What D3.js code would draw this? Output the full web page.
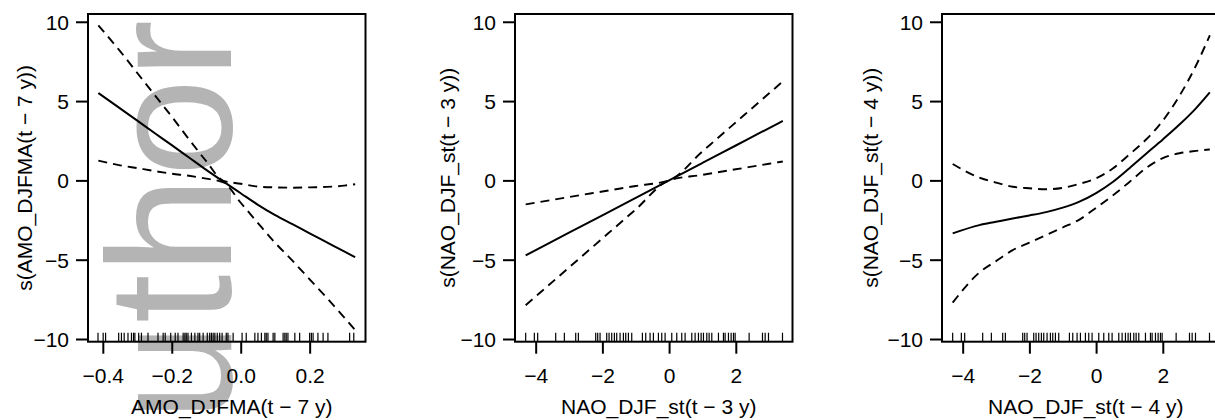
<!DOCTYPE html>
<html>
<head>
<meta charset="utf-8">
<script src="https://cdn.jsdelivr.net/npm/d3@7"></script>
<style>
  html, body { margin: 0; padding: 0; background: #fff; }
  svg { display: block; }
  text { font-family: "Liberation Sans", Arial, Helvetica, sans-serif; fill: #000; }
</style>
</head>
<body>
<svg id="chart" width="1215" height="420"></svg>
<script>
// ---- Panel 1: smooth term for AMO_DJFMA lagged 7 years ----
const amoX     = [-0.413, -0.35, -0.30, -0.25, -0.20, -0.15, -0.10, -0.05, 0.00, 0.05, 0.10, 0.15, 0.20, 0.25, 0.30, 0.332];
const amoFit   = [5.51, 4.54, 3.77, 2.99, 2.22, 1.44, 0.66, -0.08, -0.81, -1.54, -2.19, -2.76, -3.34, -3.91, -4.48, -4.84];
const amoUpper = [9.77, 8.15, 6.77, 5.39, 4.02, 2.59, 1.21, -0.03, -0.21, -0.39, -0.44, -0.46, -0.44, -0.41, -0.33, -0.24];
const amoLower = [1.25, 0.95, 0.77, 0.59, 0.42, 0.29, 0.11, -0.13, -1.41, -2.69, -3.94, -5.06, -6.24, -7.41, -8.63, -9.44];
const amoRug = [-0.414, -0.399, -0.392, -0.354, -0.346, -0.338, -0.327, -0.317, -0.311, -0.307, -0.296, -0.288,
  -0.269, -0.240, -0.225, -0.219, -0.203, -0.190, -0.182, -0.167, -0.162, -0.158, -0.153, -0.143, -0.133,
  -0.124, -0.119, -0.109, -0.097, -0.090, -0.085, -0.080, -0.075, -0.068, -0.061, -0.054, -0.042, -0.037,
  -0.022, 0.004, 0.016, 0.041, 0.050, 0.060, 0.070, 0.074, 0.079, 0.094, 0.099, 0.123, 0.128, 0.132, 0.137,
  0.157, 0.171, 0.200, 0.205, 0.210, 0.224, 0.239, 0.253, 0.316, 0.328];
const amoTicks = [-0.4, -0.2, 0.0, 0.2];

// ---- Panel 2: smooth term for NAO_DJF_st lagged 3 years ----
const nao3X     = [-4.30, -3.0, -2.0, -1.0, 0.0, 1.0, 2.0, 3.0, 3.41];
const nao3Fit   = [-4.73, -3.30, -2.20, -1.10, 0.00, 1.10, 2.20, 3.30, 3.75];
const nao3Upper = [-1.51, -1.05, -0.70, -0.35, 0.00, 1.83, 3.66, 5.49, 6.24];
const nao3Lower = [-7.87, -5.49, -3.66, -1.83, 0.00, 0.35, 0.70, 1.05, 1.19];

// ---- Panel 3: smooth term for NAO_DJF_st lagged 4 years ----
const nao4X     = [-4.30, -3.5, -3.0, -2.5, -2.0, -1.5, -1.0, -0.5, 0.0, 0.5, 1.0, 1.5, 2.0, 2.5, 3.0, 3.41];
const nao4Fit   = [-3.34, -2.82, -2.61, -2.40, -2.21, -2.00, -1.72, -1.34, -0.80, -0.10, 0.77, 1.68, 2.58, 3.52, 4.56, 5.55];
const nao4Upper = [1.03, 0.17, -0.14, -0.40, -0.50, -0.56, -0.47, -0.22, 0.13, 0.75, 1.64, 2.58, 3.76, 5.33, 7.26, 9.15];
const nao4Lower = [-7.71, -5.81, -5.09, -4.40, -3.92, -3.45, -2.97, -2.47, -1.73, -0.95, -0.10, 0.78, 1.40, 1.71, 1.86, 1.95];

// Standardised NAO values (shared rug for both NAO panels)
const naoRug = [-4.30, -4.04, -3.94, -3.40, -3.14, -2.80, -2.72, -2.20, -2.14, -2.07, -1.87, -1.80, -1.72,
  -1.64, -1.57, -1.47, -1.37, -1.30, -1.22, -1.12, -0.80, -0.70, -0.57, -0.47, -0.32, -0.22, -0.12, 0.08,
  0.23, 0.38, 0.48, 0.68, 0.78, 0.88, 0.96, 1.03, 1.13, 1.20, 1.28, 1.48, 1.63, 1.68, 1.78, 1.86, 1.93,
  1.98, 2.40, 2.80, 2.88, 2.98, 3.40];
const naoTicks = [-4, -2, 0, 2];

const yTicks = [-10, -5, 0, 5, 10];

const panels = [
  { left: 88,  yTitleGap: 56, xDomain: [-0.443, 0.362], x: amoX, fit: amoFit, upper: amoUpper, lower: amoLower,
    rug: amoRug, ticks: amoTicks, fmt: d3.format(".1f"),
    xTitle: "AMO_DJFMA(t \u2212 7 y)", yTitle: "s(AMO_DJFMA(t \u2212 7 y))" },
  { left: 515, yTitleGap: 60, xDomain: [-4.62, 3.70], x: nao3X, fit: nao3Fit, upper: nao3Upper, lower: nao3Lower,
    rug: naoRug, ticks: naoTicks, fmt: d3.format("d"),
    xTitle: "NAO_DJF_st(t \u2212 3 y)", yTitle: "s(NAO_DJF_st(t \u2212 3 y))" },
  { left: 942, yTitleGap: 64, xDomain: [-4.62, 3.70], x: nao4X, fit: nao4Fit, upper: nao4Upper, lower: nao4Lower,
    rug: naoRug, ticks: naoTicks, fmt: d3.format("d"),
    xTitle: "NAO_DJF_st(t \u2212 4 y)", yTitle: "s(NAO_DJF_st(t \u2212 4 y))" }
];

const W = 277.5, plotTop = 14, plotBottom = 341.7, fontPx = "21px";
const minus = s => s.replace(/-/g, "\u2212");

const svg = d3.select("#chart");

// faint manuscript watermark, underneath the plots
svg.append("text")
  .attr("transform", "translate(231,20) rotate(-90)")
  .attr("text-anchor", "end")
  .style("font-size", "176px")
  .style("fill", "#b4b4b4")
  .text("Author");

const y = d3.scaleLinear().domain([-10.17, 10.49]).range([plotBottom, plotTop]);

panels.forEach(p => {
  const g = svg.append("g");
  const x = d3.scaleLinear().domain(p.xDomain).range([p.left, p.left + W]);
  const pts = arr => p.x.map((v, i) => [v, arr[i]]);
  const line = d3.line().x(d => x(d[0])).y(d => y(d[1])).curve(d3.curveMonotoneX);

  // confidence bands (dashed) and fitted smooth (solid)
  [p.upper, p.lower].forEach(band => {
    g.append("path").datum(pts(band))
      .attr("d", line).attr("fill", "none").attr("stroke", "#000")
      .attr("stroke-width", 1.9).attr("stroke-dasharray", "9,6");
  });
  g.append("path").datum(pts(p.fit))
    .attr("d", line).attr("fill", "none").attr("stroke", "#000").attr("stroke-width", 2);

  // rug of observed covariate values
  g.selectAll("line.rug").data(p.rug).join("line")
    .attr("x1", d => x(d)).attr("x2", d => x(d))
    .attr("y1", plotBottom).attr("y2", plotBottom - 9)
    .attr("stroke", "#000").attr("stroke-width", 1.2);

  // x axis
  const xa = g.append("g").attr("transform", `translate(0,${plotBottom})`)
    .call(d3.axisBottom(x).tickValues(p.ticks).tickSize(12).tickPadding(14)
      .tickFormat(d => minus(p.fmt(d))));
  xa.select(".domain").remove();
  xa.selectAll(".tick line").attr("stroke", "#000").attr("stroke-width", 2);
  xa.selectAll(".tick text").style("font-size", fontPx).attr("dy", "0.71em").attr("fill", "#000");

  // y axis
  const ya = g.append("g").attr("transform", `translate(${p.left},0)`)
    .call(d3.axisLeft(y).tickValues(yTicks).tickSize(12).tickPadding(7)
      .tickFormat(d => minus(d3.format("d")(d))));
  ya.select(".domain").remove();
  ya.selectAll(".tick line").attr("stroke", "#000").attr("stroke-width", 2);
  ya.selectAll(".tick text").style("font-size", fontPx).attr("dy", "0.35em").attr("fill", "#000");

  // frame
  g.append("rect").attr("x", p.left).attr("y", plotTop).attr("width", W).attr("height", plotBottom - plotTop)
    .attr("fill", "none").attr("stroke", "#000").attr("stroke-width", 2);

  // axis titles
  g.append("text")
    .attr("x", p.left + W / 2 + 5).attr("y", plotBottom + 72)
    .attr("text-anchor", "middle").style("font-size", fontPx)
    .text(p.xTitle);
  g.append("text")
    .attr("transform", `translate(${p.left - p.yTitleGap},${(plotTop + plotBottom) / 2}) rotate(-90)`)
    .attr("text-anchor", "middle").style("font-size", fontPx)
    .text(p.yTitle);
});
</script>
</body>
</html>
